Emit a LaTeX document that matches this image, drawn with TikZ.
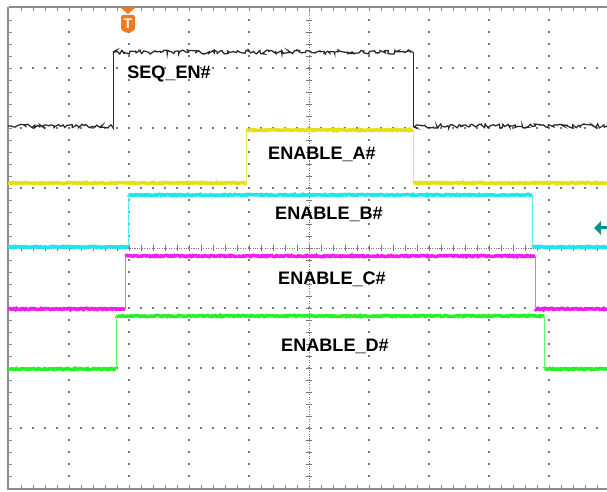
\documentclass[tikz,border=0pt]{standalone}
\usepackage{fontspec}
\setmainfont{Liberation Sans}
\usetikzlibrary{positioning,decorations.pathmorphing}
\definecolor{gridgray}{RGB}{120,120,120}
\definecolor{framegray}{RGB}{140,140,140}
\definecolor{seqblack}{RGB}{40,40,40}
\definecolor{chyellow}{RGB}{228,224,20}
\definecolor{chcyan}{RGB}{30,230,240}
\definecolor{chmagenta}{RGB}{240,30,240}
\definecolor{chgreen}{RGB}{40,240,40}
\definecolor{markorange}{RGB}{244,120,30}
\definecolor{markteal}{RGB}{0,145,140}

\begin{document}
\begin{tikzpicture}[x=0.02cm,y=-0.02cm,
  siglabel/.style={font=\fontsize{10.3}{12}\selectfont\bfseries,inner sep=0pt,anchor=base},
  level/.style={line width=2pt,decorate,decoration={random steps,segment length=0.7pt,amplitude=0.35pt}},
  edgeline/.style={line width=0.4pt},
  griddot/.style={fill=gridgray}]
\pgfmathsetseed{11}
\useasboundingbox (0,0) rectangle (607,492);
\fill[white] (0,0) rectangle (607,492);

% graticule dots
\foreach \i in {1,2,3,4,6,7,8,9}
  \foreach \j in {1,...,39}
    \fill[griddot] (9+60*\i-0.7,8+12*\j-0.7) rectangle ++(1.4,1.4);
\foreach \k in {1,2,3,5,6,7}
  \foreach \j in {1,...,49}
    \fill[griddot] (9+12*\j-0.7,8+60*\k-0.7) rectangle ++(1.4,1.4);

% centre axes
\draw[gridgray,line width=0.5pt,dash pattern=on 0.6pt off 0.8pt] (309,8) -- (309,488);
\draw[gridgray,line width=0.5pt,dash pattern=on 0.6pt off 0.8pt] (9,248) -- (609,248);
\foreach \j in {1,...,39}
  \draw[gridgray,line width=0.4pt] (306,8+12*\j) -- (312,8+12*\j);
\foreach \j in {1,...,49}
  \draw[gridgray,line width=0.4pt] (9+12*\j,245) -- (9+12*\j,251);

% frame with ticks
\draw[framegray,line width=1.2pt] (9,7) -- (609,7) (8,7) -- (8,489) -- (609,489);
\foreach \j in {1,...,49} {
  \draw[framegray,line width=0.4pt] (9+12*\j,7) -- (9+12*\j,11);
  \draw[framegray,line width=0.4pt] (9+12*\j,489) -- (9+12*\j,485);
}
\foreach \j in {1,...,39}
  \draw[framegray,line width=0.4pt] (8,8+12*\j) -- (12,8+12*\j);

% sequence enable
\draw[seqblack,line width=0.7pt,decorate,decoration={random steps,segment length=1pt,amplitude=1.2pt}]
  (8,126) -- (113,126) (113,52) -- (413,52) (413,126) -- (607,126);
\draw[seqblack,edgeline] (113,126) -- (113,52) (413,52) -- (413,126);

% enable channels
\foreach \col/\lo/\hi/\xa/\xb in {chyellow/183/130/246/413,chcyan/247/195/128/532,
    chmagenta/309/256/125/535,chgreen/369/316/116/544} {
  \draw[level,\col] (8,\lo) -- (\xa,\lo) (\xa,\hi) -- (\xb,\hi) (\xb,\lo) -- (607,\lo);
  \draw[edgeline,\col!70] (\xa,\lo) -- (\xa,\hi) (\xb,\hi) -- (\xb,\lo);
}

% labels
\node[siglabel] (seq_en) at (169,78.3) {SEQ\_EN\#};
\node[siglabel] (en_a) at (322,159.3) {ENABLE\_A\#};
\node[siglabel] (en_b) at (329,219.3) {ENABLE\_B\#};
\node[siglabel] (en_c) at (332,285) {ENABLE\_C\#};
\node[siglabel] (en_d) at (335,351.7) {ENABLE\_D\#};

% trigger marker
\fill[markorange] (121,8) -- (135,8) -- (128,14) -- cycle;
\fill[markorange,rounded corners=1.2pt] (121,15) -- (135,15) -- (135,30) -- (128,33.5) -- (121,30) -- cycle;
\node[text=white,font=\fontsize{8}{8}\selectfont\bfseries,inner sep=0pt] (trig) at (128,23.5) {T};

% level marker
\fill[markteal] (594,228) -- (601,221) -- (601,235) -- cycle;
\fill[markteal] (600,226.5) rectangle (607,229.5);
\end{tikzpicture}
\end{document}
